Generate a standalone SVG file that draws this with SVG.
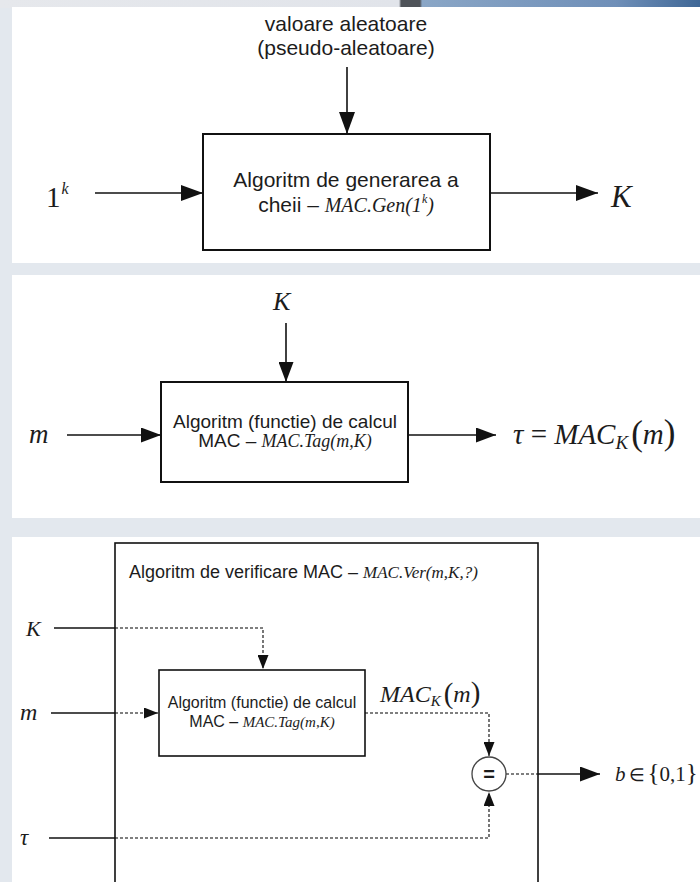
<svg xmlns="http://www.w3.org/2000/svg" width="700" height="882" viewBox="0 0 700 882">
  <style>
    .sans { font-family: "Liberation Sans", Arial, sans-serif; fill: #1c1c1c; }
    .ser  { font-family: "Liberation Serif", "Times New Roman", serif; fill: #1c1c1c; }
    .it   { font-style: italic; }
    .box  { fill: #ffffff; stroke: #111; stroke-width: 2; }
    .line { fill: none; stroke: #111; stroke-width: 1.6; }
    .dash { fill: none; stroke: #555; stroke-width: 1.6; stroke-dasharray: 3 2; }
    .panel { fill: #ffffff; }
  </style>
  <defs>
    <marker id="ahL" viewBox="0 0 22 16" refX="22" refY="8" markerWidth="22" markerHeight="16" markerUnits="userSpaceOnUse" orient="auto">
      <path d="M0,0 L22,8 L0,16 z" fill="#111"/>
    </marker>
    <marker id="ahM" viewBox="0 0 20 15" refX="20" refY="7.5" markerWidth="20" markerHeight="15" markerUnits="userSpaceOnUse" orient="auto">
      <path d="M0,0 L20,7.5 L0,15 z" fill="#111"/>
    </marker>
    <marker id="ahS" viewBox="0 0 14 11" refX="14" refY="5.5" markerWidth="14" markerHeight="11" markerUnits="userSpaceOnUse" orient="auto">
      <path d="M0,0 L14,5.5 L0,11 z" fill="#111"/>
    </marker>
    <linearGradient id="bgTop" x1="0" y1="0" x2="1" y2="0">
      <stop offset="0" stop-color="#e6e8ec"/>
      <stop offset="0.57" stop-color="#e1e4ea"/>
      <stop offset="0.573" stop-color="#4f5359"/>
      <stop offset="0.6" stop-color="#4f5359"/>
      <stop offset="0.603" stop-color="#8aa6c6"/>
      <stop offset="0.88" stop-color="#6f8fb8"/>
      <stop offset="1" stop-color="#3f6796"/>
    </linearGradient>
  </defs>

  <!-- backdrop -->
  <rect x="0" y="0" width="700" height="882" fill="#e3e8ee"/>
  <rect x="0" y="0" width="700" height="8" fill="url(#bgTop)"/>

  <!-- panels -->
  <rect class="panel" x="12" y="7" width="688" height="256"/>
  <rect class="panel" x="12" y="275" width="688" height="243"/>
  <rect class="panel" x="12" y="537" width="688" height="345"/>

  <!-- connectors -->
  <g id="connectors">
    <!-- key generation -->
    <line class="line" x1="347" y1="67" x2="347" y2="134" marker-end="url(#ahL)"/>
    <line class="line" x1="95" y1="193" x2="203" y2="193" marker-end="url(#ahL)"/>
    <line class="line" x1="490" y1="193" x2="598" y2="193" marker-end="url(#ahL)"/>
    <!-- tag computation -->
    <line class="line" x1="286" y1="323" x2="286" y2="382" marker-end="url(#ahM)"/>
    <line class="line" x1="67" y1="435" x2="161" y2="435" marker-end="url(#ahM)"/>
    <line class="line" x1="408" y1="435" x2="496" y2="435" marker-end="url(#ahM)"/>
    <!-- verification -->
    <line class="line" x1="54" y1="628" x2="115" y2="628"/>
    <path class="dash" d="M115,628 H263 V669" marker-end="url(#ahS)"/>
    <line class="line" x1="51" y1="713" x2="115" y2="713"/>
    <path class="dash" d="M115,713 H158" marker-end="url(#ahS)"/>
    <line class="line" x1="49" y1="838" x2="115" y2="838"/>
    <path class="dash" d="M115,838 H489 V792" marker-end="url(#ahS)"/>
    <path class="dash" d="M365,713 H489 V756" marker-end="url(#ahS)"/>
    <path class="dash" d="M506,774 H538"/>
    <line class="line" x1="538" y1="774" x2="600" y2="774" marker-end="url(#ahM)"/>
  </g>

  <!-- key generation -->
  <g id="gen-input-random">
    <text class="sans" x="346" y="31" font-size="21" text-anchor="middle">valoare aleatoare</text>
    <text class="sans" x="346" y="55" font-size="21" text-anchor="middle">(pseudo-aleatoare)</text>
  </g>
  <g id="gen-input-security">
    <text class="ser" x="46" y="207" font-size="29">1<tspan class="it" font-size="16" dy="-13" dx="1">k</tspan></text>
  </g>
  <g id="gen-box">
    <rect class="box" x="203" y="134" width="287" height="116"/>
    <text class="sans" x="346" y="187" font-size="21" text-anchor="middle">Algoritm de generarea a</text>
    <text class="sans" x="346" y="212" font-size="21" text-anchor="middle">cheii – <tspan class="ser it" font-size="20">MAC.Gen(1</tspan><tspan class="ser it" font-size="12" dy="-9">k</tspan><tspan class="ser it" font-size="20" dy="9">)</tspan></text>
  </g>
  <g id="gen-output">
    <text class="ser it" x="611" y="207" font-size="31">K</text>
  </g>

  <!-- tag computation -->
  <g id="tag-input-key">
    <text class="ser it" x="273" y="310" font-size="26">K</text>
  </g>
  <g id="tag-input-msg">
    <text class="ser it" x="29" y="443" font-size="27">m</text>
  </g>
  <g id="tag-box">
    <rect class="box" x="161" y="382" width="247" height="100"/>
    <text class="sans" x="285" y="428" font-size="19" text-anchor="middle">Algoritm (functie) de calcul</text>
    <text class="sans" x="285" y="447" font-size="19" text-anchor="middle">MAC – <tspan class="ser it" font-size="18">MAC.Tag(m,K)</tspan></text>
  </g>
  <g id="tag-output">
    <text class="ser" x="513" y="444" font-size="29"><tspan class="it">τ</tspan> = <tspan class="it">MAC</tspan><tspan class="it" font-size="19" dy="5">K</tspan><tspan font-size="35" dy="-4" dx="3">(</tspan><tspan class="it" dy="-1">m</tspan><tspan font-size="35">)</tspan></text>
  </g>

  <!-- verification -->
  <g id="ver-frame">
    <rect x="115" y="543" width="423" height="360" fill="none" stroke="#111" stroke-width="1.6"/>
    <text class="sans" x="129" y="578" font-size="18">Algoritm de verificare MAC – <tspan class="ser it" font-size="17">MAC.Ver(m,K,?)</tspan></text>
  </g>
  <g id="ver-input-key">
    <text class="ser it" x="26" y="636" font-size="22">K</text>
  </g>
  <g id="ver-input-msg">
    <text class="ser it" x="20" y="720" font-size="24">m</text>
  </g>
  <g id="ver-input-tag">
    <text class="ser it" x="20" y="845" font-size="23">τ</text>
  </g>
  <g id="ver-tag-box">
    <rect x="159" y="670" width="206" height="86" fill="#fff" stroke="#111" stroke-width="1.6"/>
    <text class="sans" x="262" y="708" font-size="16" text-anchor="middle">Algoritm (functie) de calcul</text>
    <text class="sans" x="262" y="727" font-size="16" text-anchor="middle">MAC – <tspan class="ser it" font-size="15">MAC.Tag(m,K)</tspan></text>
  </g>
  <g id="ver-tag-label">
    <text class="ser" x="380" y="702" font-size="24"><tspan class="it">MAC</tspan><tspan class="it" font-size="15" dy="4">K</tspan><tspan font-size="29" dy="-3" dx="3">(</tspan><tspan class="it" dy="-1">m</tspan><tspan font-size="29">)</tspan></text>
  </g>
  <g id="ver-compare">
    <circle cx="489" cy="774" r="17" fill="#fff" stroke="#444" stroke-width="1.3"/>
    <text class="sans" x="489" y="781" font-size="20" font-weight="bold" text-anchor="middle">=</text>
  </g>
  <g id="ver-output">
    <text class="ser" x="615" y="781" font-size="21"><tspan class="it">b</tspan><tspan font-size="18" dx="3">∈</tspan><tspan font-size="25" dx="3">{</tspan>0,1<tspan font-size="25">}</tspan></text>
  </g>
</svg>
